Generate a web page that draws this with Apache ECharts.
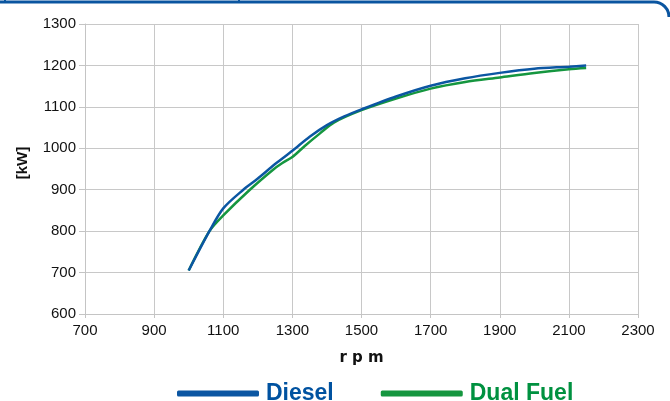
<!DOCTYPE html>
<html>
<head>
<meta charset="utf-8">
<script src="https://cdn.jsdelivr.net/npm/echarts@6/dist/echarts.min.js"></script>
<style>
  html, body { margin: 0; padding: 0; background: #fff; }
  #chart { width: 670px; height: 401px; }
</style>
</head>
<body>
<div id="chart"></div>
<script>
// rpm / kW
var dieselRpm = [1000, 1060, 1100, 1158, 1200, 1250, 1300, 1350, 1400, 1450, 1500, 1600, 1700, 1800, 1900, 2000, 2100, 2150];
var dieselKw  = [705, 800, 855, 900, 927, 962, 994, 1028, 1056, 1077, 1094, 1125, 1151, 1169, 1182, 1192, 1197, 1200];

var dualRpm = [1000, 1060, 1100, 1177, 1245, 1270, 1300, 1335, 1380, 1420, 1500, 1600, 1700, 1800, 1900, 2000, 2100, 2150];
var dualKw  = [705, 800, 838, 900, 949, 964, 979, 1005, 1036, 1062, 1092, 1120, 1144, 1160, 1171, 1182, 1191, 1194];

var seriesNames = ['Diesel', 'Dual Fuel'];
var seriesColors = ['#0b56a2', '#15963f'];
var legendColors = ['#0052a0', '#009140'];

function pairs(xs, ys) {
  return xs.map(function (x, i) { return [x, ys[i]]; });
}

var chart = echarts.init(document.getElementById('chart'));

var frameColor = '#0a55a0';

var option = {
  backgroundColor: '#fff',
  animation: false,
  grid: { left: 85, right: 32, top: 24, bottom: 87, outerBoundsMode: 'none', containLabel: false },
  // frame line at the top of the picture
  graphic: [{
    type: 'polyline',
    shape: { points: [[0, 2], [654, 2]] },
    style: { stroke: frameColor, lineWidth: 3, fill: null }
  }, {
    type: 'arc',
    shape: { cx: 654, cy: 17, r: 15, startAngle: -Math.PI / 2, endAngle: 0, clockwise: true },
    style: { stroke: frameColor, lineWidth: 3, fill: null }
  }, {
    type: 'polyline',
    shape: { points: [[5, 0], [5, 2]] },
    style: { stroke: frameColor, lineWidth: 2 }
  }, {
    type: 'polyline',
    shape: { points: [[239, 0], [239, 2]] },
    style: { stroke: frameColor, lineWidth: 2 }
  }],
  legend: {
    left: 172,
    top: 377,
    itemWidth: 82,
    itemHeight: 6,
    itemGap: 47,
    icon: 'roundRect',
    data: [
      { name: seriesNames[0], textStyle: { color: legendColors[0] } },
      { name: seriesNames[1], textStyle: { color: legendColors[1] } }
    ],
    textStyle: {
      fontFamily: 'Liberation Sans',
      fontWeight: 'bold',
      fontSize: 23,
      padding: [0, 0, 0, 2]
    }
  },
  xAxis: {
    type: 'value',
    min: 700,
    max: 2300,
    interval: 200,
    name: 'r p m',
    nameLocation: 'middle',
    nameGap: 37,
    nameTextStyle: { fontFamily: 'DejaVu Sans', fontWeight: 'bold', fontSize: 15, color: '#111' },
    axisLine: { lineStyle: { color: '#c4c4c4' } },
    axisTick: { show: true, length: 4, lineStyle: { color: '#c4c4c4' } },
    axisLabel: { margin: 9, color: '#111', fontFamily: 'Liberation Sans', fontSize: 15, formatter: function (v) { return String(v); } },
    splitLine: { show: true, lineStyle: { color: '#c8c8c8', width: 1 } }
  },
  yAxis: {
    type: 'value',
    min: 600,
    max: 1300,
    interval: 100,
    name: '[kW]',
    nameLocation: 'middle',
    nameGap: 55,
    nameRotate: 90,
    nameTextStyle: { fontFamily: 'Liberation Sans', fontWeight: 'bold', fontSize: 15, color: '#111', padding: [0, 0, 0, 12] },
    axisLine: { show: true, lineStyle: { color: '#c4c4c4' } },
    axisTick: { show: true, length: 6, lineStyle: { color: '#c4c4c4' } },
    axisLabel: { margin: 9, color: '#111', fontFamily: 'Liberation Sans', fontSize: 15, formatter: function (v) { return String(v); } },
    splitLine: { show: true, lineStyle: { color: '#c8c8c8', width: 1 } }
  },
  series: [{
    name: seriesNames[0],
    type: 'line',
    data: pairs(dieselRpm, dieselKw),
    smooth: 0.3,
    showSymbol: false,
    color: seriesColors[0],
    lineStyle: { width: 2.5, color: seriesColors[0] },
    z: 3
  }, {
    name: seriesNames[1],
    type: 'line',
    data: pairs(dualRpm, dualKw),
    smooth: 0.3,
    showSymbol: false,
    color: seriesColors[1],
    lineStyle: { width: 2.5, color: seriesColors[1] },
    z: 2
  }]
};

chart.setOption(option);
</script>
</body>
</html>
